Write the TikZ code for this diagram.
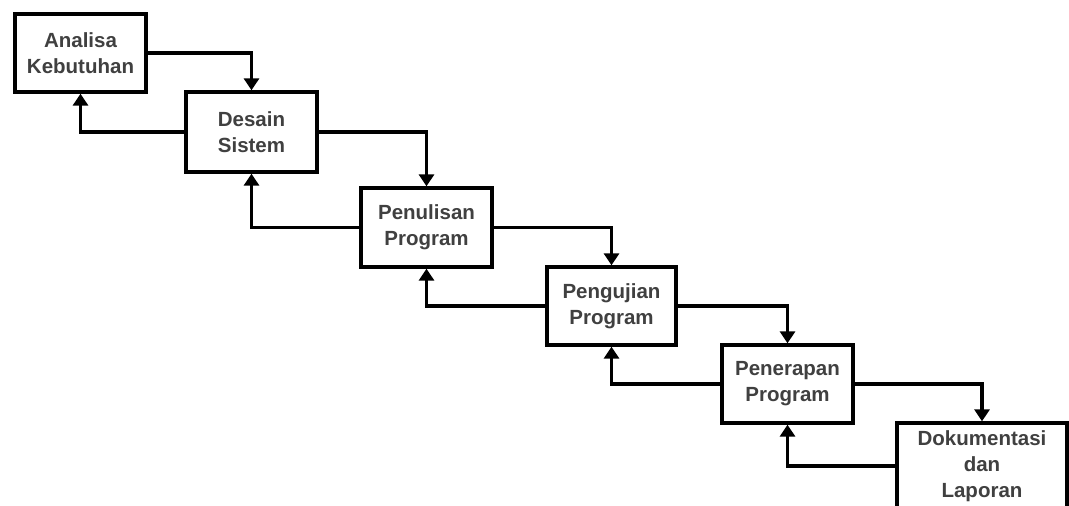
\documentclass[tikz,border=0pt]{standalone}
\usepackage{fontspec}
\setmainfont{Liberation Sans}
\usetikzlibrary{arrows.meta}
\begin{document}
\begin{tikzpicture}[x=1pt,y=-1pt,
  stepbox/.style={draw=black, line width=3.3pt, fill=white, align=center,
    font=\bfseries\fontsize{20.5}{26}\selectfont, text=black!75,
    inner sep=0pt},
  flow/.style={draw=black, line width=3.1pt, -{Triangle[width=15pt,length=12pt]}}]
\useasboundingbox (0,0) rectangle (1069,506);
\clip (0,0) rectangle (1069,506);
\node[stepbox, minimum width=131pt, minimum height=78pt] (a) at (80.5,53) {Analisa\\Kebutuhan};
\node[stepbox, minimum width=131pt, minimum height=80pt] (b) at (251.5,132) {Desain\\Sistem};
\node[stepbox, minimum width=131pt, minimum height=79pt] (c) at (426.5,227.5) {Penulisan\\Program};
\node[stepbox, minimum width=129pt, minimum height=78pt] (d) at (611.5,306) {Pengujian\\Program};
\node[stepbox, minimum width=131pt, minimum height=78pt] (e) at (787.5,384) {Penerapan\\Program};
\node[stepbox, minimum width=170pt, minimum height=86pt] (f) at (982,466) {Dokumentasi\\dan\\Laporan};
\draw[flow] (a.east) -| (b.north);
\draw[flow] (b.west) -| (a.south);
\draw[flow] (b.east) -| (c.north);
\draw[flow] (c.west) -| (b.south);
\draw[flow] (c.east) -| (d.north);
\draw[flow] (d.west) -| (c.south);
\draw[flow] (d.east) -| (e.north);
\draw[flow] (e.west) -| (d.south);
\draw[flow] (e.east) -| (f.north);
\draw[flow] (f.west) -| (e.south);
\end{tikzpicture}
\end{document}
